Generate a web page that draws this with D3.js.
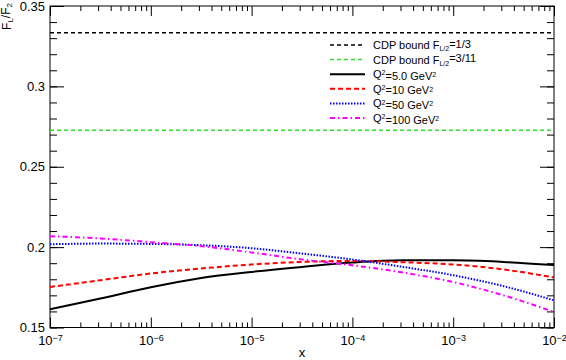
<!DOCTYPE html>
<html>
<head>
<meta charset="utf-8">
<script src="https://cdn.jsdelivr.net/npm/d3@7"></script>
<style>
  body { margin: 0; background: #fff; }
  svg { display: block; font-family: "Liberation Sans", Arial, sans-serif; }
</style>
</head>
<body>
<script>

// values, at half-decade steps in x
var xs = [1e-7, 3.16e-7, 1e-6, 3.16e-6, 1e-5, 3.16e-5, 1e-4, 3.16e-4, 1e-3, 3.16e-3, 1e-2];
var q5   = [0.1613, 0.1680, 0.1750, 0.1808, 0.1846, 0.1877, 0.1904, 0.1918, 0.1918, 0.1908, 0.1889];
var q10  = [0.1752, 0.1794, 0.1836, 0.1867, 0.1892, 0.1908, 0.1914, 0.1906, 0.1892, 0.1861, 0.1811];
var q50  = [0.2018, 0.2022, 0.2020, 0.2012, 0.1993, 0.1960, 0.1923, 0.1877, 0.1825, 0.1757, 0.1669];
var q100 = [0.2068, 0.2054, 0.2031, 0.2006, 0.1967, 0.1923, 0.1887, 0.1842, 0.1783, 0.1700, 0.1597];
var bounds = [1/3, 3/11];

var xMajor = [1e-7, 1e-6, 1e-5, 1e-4, 1e-3, 1e-2];
var xExp = ["-7", "-6", "-5", "-4", "-3", "-2"];
var yMajor = [0.15, 0.2, 0.25, 0.3, 0.35];
var yLabels = ["0.15", "0.2", "0.25", "0.3", "0.35"];

var W = 566, H = 360;
var mLeft = 50, mRight = 554, mTop = 6, mBottom = 327.5;

var svg = d3.select("body").append("svg").attr("width", W).attr("height", H);

var x = d3.scaleLog().domain([1e-7, 1e-2]).range([mLeft, mRight]),
    y = d3.scaleLinear().domain([0.15, 0.35]).range([mBottom, mTop]);

// minor ticks
var xMinor = [];
xMajor.slice(0, -1).forEach(function(d) {
  for (var k = 2; k <= 9; k++) xMinor.push(k * d);
});
var yMinor = d3.range(15, 36).map(function(d) { return d / 100; });

function clean(g) { g.select(".domain").remove(); g.selectAll("line").attr("stroke", "#000"); }

// bottom axis
svg.append("g").attr("transform", "translate(0," + mBottom + ")")
  .call(d3.axisBottom(x).tickValues(xMinor).tickSize(-5).tickFormat(""))
  .call(clean);
var xb = svg.append("g").attr("transform", "translate(0," + mBottom + ")")
  .call(d3.axisBottom(x).tickValues(xMajor).tickSize(-10).tickPadding(8).tickFormat(""))
  .call(clean);
xb.selectAll("text")
  .attr("fill", "#000")
  .attr("font-size", "13px")
  .attr("dy", "0.71em")
  .each(function(d, i) {
    var t = d3.select(this);
    t.append("tspan").text("10");
    t.append("tspan").attr("dy", "-0.45em").attr("font-size", "9px").text("\u2212" + xExp[i].slice(1));
  });

// top axis
svg.append("g").attr("transform", "translate(0," + mTop + ")")
  .call(d3.axisTop(x).tickValues(xMinor).tickSize(-5).tickFormat(""))
  .call(clean);
svg.append("g").attr("transform", "translate(0," + mTop + ")")
  .call(d3.axisTop(x).tickValues(xMajor).tickSize(-10).tickFormat(""))
  .call(clean);

// left axis
svg.append("g").attr("transform", "translate(" + mLeft + ",0)")
  .call(d3.axisLeft(y).tickValues(yMinor).tickSize(-7).tickFormat(""))
  .call(clean);
svg.append("g").attr("transform", "translate(" + mLeft + ",0)")
  .call(d3.axisLeft(y).tickValues(yMajor).tickSize(-14).tickPadding(5)
    .tickFormat(function(d, i) { return yLabels[i]; }))
  .call(clean)
  .selectAll("text").attr("fill", "#000").attr("font-size", "13px");

// right axis
svg.append("g").attr("transform", "translate(" + mRight + ",0)")
  .call(d3.axisRight(y).tickValues(yMinor).tickSize(-7).tickFormat(""))
  .call(clean);
svg.append("g").attr("transform", "translate(" + mRight + ",0)")
  .call(d3.axisRight(y).tickValues(yMajor).tickSize(-14).tickFormat(""))
  .call(clean);

svg.append("rect")
  .attr("x", mLeft).attr("y", mTop)
  .attr("width", mRight - mLeft).attr("height", mBottom - mTop)
  .attr("fill", "none").attr("stroke", "#000").attr("stroke-width", 1);

// styles per series
var styles = [
  {color: "#000", dash: "4,3", width: 1.5},
  {color: "#33dd33", dash: "4,3", width: 1.5},
  {color: "#000", dash: null, width: 2},
  {color: "#ff0000", dash: "5,3", width: 2},
  {color: "#0000ff", dash: "1.5,1.5", width: 2},
  {color: "#ff00ff", dash: "5,3,1.5,3", width: 2}
];

// horizontal bounds
bounds.forEach(function(b, i) {
  svg.append("line")
    .attr("x1", x(1e-7)).attr("x2", x(1e-2))
    .attr("y1", y(b)).attr("y2", y(b))
    .attr("stroke", styles[i].color)
    .attr("stroke-width", styles[i].width)
    .attr("stroke-dasharray", styles[i].dash);
});

var line = d3.line()
  .x(function(d) { return x(d[0]); })
  .y(function(d) { return y(d[1]); })
  .curve(d3.curveMonotoneX);

[q5, q10, q50, q100].forEach(function(s, i) {
  var st = styles[i + 2];
  svg.append("path")
    .datum(d3.zip(xs, s))
    .attr("d", line)
    .attr("fill", "none")
    .attr("stroke", st.color)
    .attr("stroke-width", st.width)
    .attr("stroke-dasharray", st.dash);
});

// rich text helper: parts = [[text, "sub"|"sup"|null], ...]
function rich(t, parts, small) {
  var shift = 0;
  parts.forEach(function(p) {
    var target = p[1] === "sup" ? -0.4 : p[1] === "sub" ? 0.3 : 0;
    var ts = t.append("tspan").text(p[0]).attr("dy", (target - shift) + "em");
    if (p[1]) ts.attr("font-size", small);
    shift = target;
  });
}

// legend
var legendItems = [
  [["CDP bound F", null], ["L/2", "sub"], ["=1/3", null]],
  [["CDP bound F", null], ["L/2", "sub"], ["=3/11", null]],
  [["Q", null], ["2", "sup"], ["=5.0 GeV", null], ["2", "sup"]],
  [["Q", null], ["2", "sup"], ["=10 GeV", null], ["2", "sup"]],
  [["Q", null], ["2", "sup"], ["=50 GeV", null], ["2", "sup"]],
  [["Q", null], ["2", "sup"], ["=100 GeV", null], ["2", "sup"]]
];

var lg = svg.append("g");
legendItems.forEach(function(item, i) {
  var ly = 45 + i * 14.6;
  var st = styles[i];
  lg.append("line")
    .attr("x1", 330).attr("x2", 365).attr("y1", ly).attr("y2", ly)
    .attr("stroke", st.color)
    .attr("stroke-width", st.width)
    .attr("stroke-dasharray", st.dash);
  var t = lg.append("text")
    .attr("x", 373).attr("y", ly + 4)
    .attr("font-size", "11px").attr("fill", "#000");
  rich(t, item, "7px");
});

// axis titles
svg.append("text")
  .attr("x", (mLeft + mRight) / 2).attr("y", 357)
  .attr("text-anchor", "middle").attr("font-size", "13px")
  .text("x");

var yt = svg.append("text")
  .attr("transform", "translate(11,3) rotate(-90)")
  .attr("text-anchor", "end").attr("font-size", "12px");
rich(yt, [["F", null], ["L", "sub"], ["/F", null], ["2", "sub"]], "8px");

</script>
</body>
</html>
